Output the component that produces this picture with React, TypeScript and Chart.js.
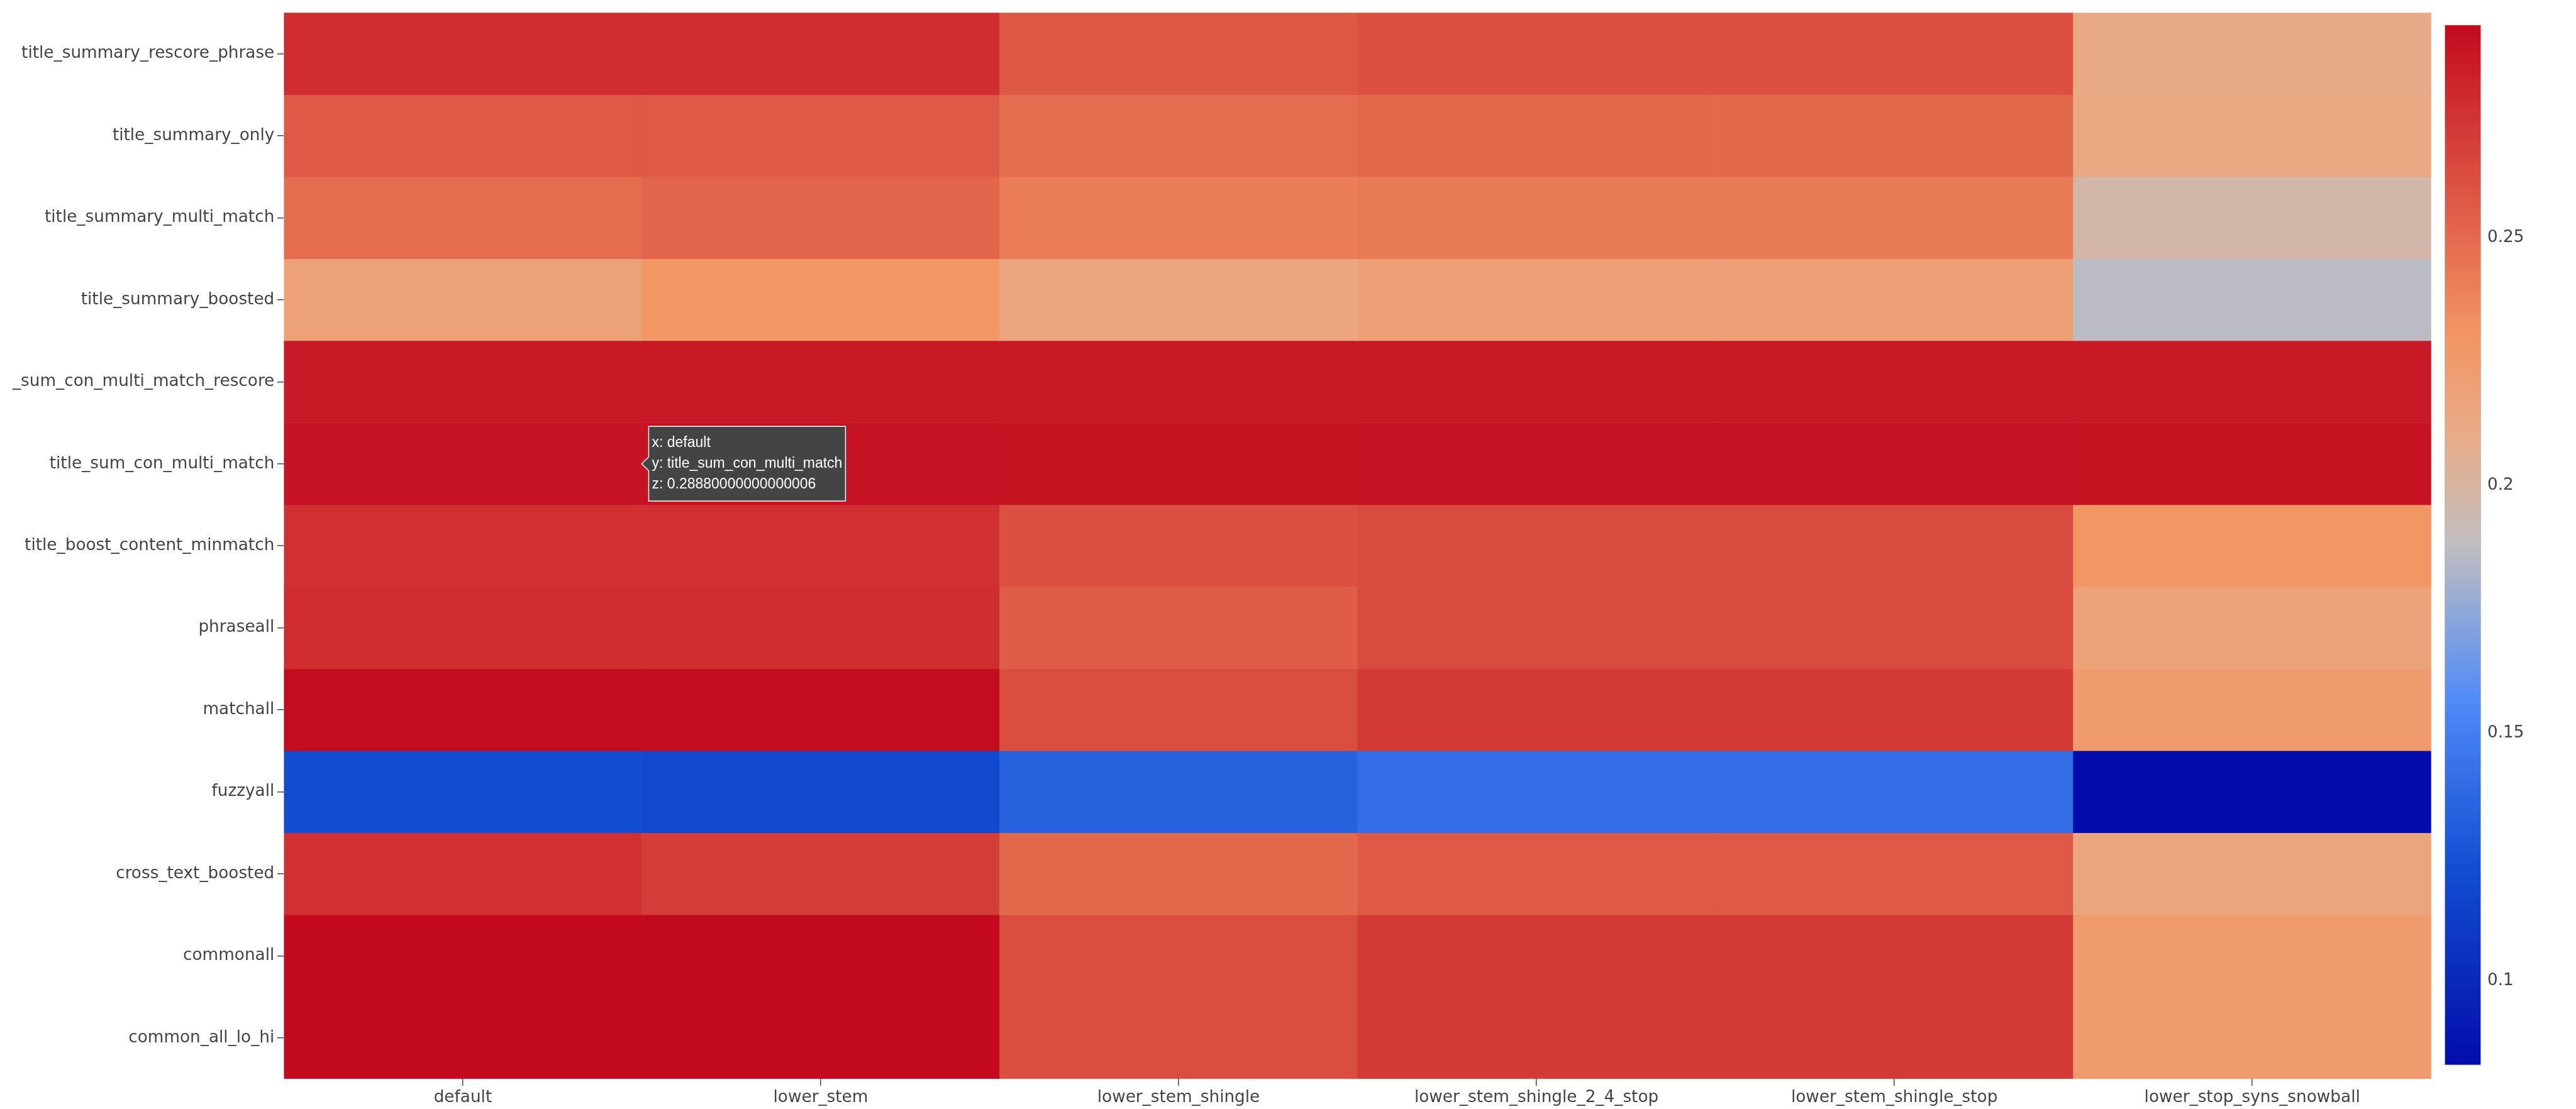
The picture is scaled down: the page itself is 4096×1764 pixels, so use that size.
import React, { useEffect, useRef } from "react";
import { Chart, registerables, Tooltip } from "chart.js";

Chart.register(...registerables);

// ---------- data ----------
const columns = [
  "default",
  "lower_stem",
  "lower_stem_shingle",
  "lower_stem_shingle_2_4_stop",
  "lower_stem_shingle_stop",
  "lower_stop_syns_snowball",
];

// rows listed top to bottom
const rowNames = [
  "title_summary_rescore_phrase",
  "title_summary_only",
  "title_summary_multi_match",
  "title_summary_boosted",
  "title_sum_con_multi_match_rescore",
  "title_sum_con_multi_match",
  "title_boost_content_minmatch",
  "phraseall",
  "matchall",
  "fuzzyall",
  "cross_text_boosted",
  "commonall",
  "common_all_lo_hi",
];

const zTitleSummaryRescorePhrase = [0.2773, 0.2772, 0.2579, 0.2615, 0.2615, 0.2109];
const zTitleSummaryOnly = [0.257, 0.2568, 0.2489, 0.2503, 0.2503, 0.2128];
const zTitleSummaryMultiMatch = [0.2489, 0.2525, 0.2413, 0.2426, 0.2426, 0.1975];
const zTitleSummaryBoosted = [0.2195, 0.23, 0.215, 0.22, 0.22, 0.1865];
const zTitleSumConMultiMatchRescore = [0.2862, 0.2862, 0.2861, 0.2862, 0.2862, 0.286];
const zTitleSumConMultiMatch = [0.28880000000000006, 0.2888, 0.2887, 0.2888, 0.2888, 0.2886];
const zTitleBoostContentMinmatch = [0.2759, 0.2759, 0.2615, 0.2638, 0.2638, 0.23];
const zPhraseall = [0.2773, 0.2773, 0.2561, 0.2638, 0.2638, 0.2186];
const zMatchall = [0.2921, 0.2921, 0.2624, 0.2714, 0.2714, 0.2252];
const zFuzzyall = [0.122, 0.1192, 0.1335, 0.1404, 0.1404, 0.083];
const zCrossTextBoosted = [0.2759, 0.2696, 0.2503, 0.257, 0.257, 0.2157];
const zCommonall = [0.293, 0.293, 0.2624, 0.2714, 0.2714, 0.2252];
const zCommonAllLoHi = [0.293, 0.293, 0.2624, 0.2714, 0.2714, 0.2252];

const zRows = [
  zTitleSummaryRescorePhrase,
  zTitleSummaryOnly,
  zTitleSummaryMultiMatch,
  zTitleSummaryBoosted,
  zTitleSumConMultiMatchRescore,
  zTitleSumConMultiMatch,
  zTitleBoostContentMinmatch,
  zPhraseall,
  zMatchall,
  zFuzzyall,
  zCrossTextBoosted,
  zCommonall,
  zCommonAllLoHi,
];

const colorbarTicks = [0.1, 0.15, 0.2, 0.25];

const hoverRow = "title_sum_con_multi_match";
const hoverColumn = "default";

// ---------- style ----------
const colorStops: [number, number[]][] = [
  [0, [3, 12, 170]],
  [0.19, [18, 78, 210]],
  [0.35, [80, 138, 248]],
  [0.5, [192, 190, 192]],
  [0.6, [232, 172, 138]],
  [0.7, [242, 150, 100]],
  [1, [195, 10, 30]],
];

const W = 4096;
const H = 1764;
const PLOT = { left: 451.4, right: 3865.7, top: 17.7, bottom: 1716 };
const CB = { left: 3887, width: 58, top: 39.4, bottom: 1694.4, labelGap: 10 };
const LEFT_CLIP = 19;
const FONT_FAMILY = "'DejaVu Sans', 'Verdana', sans-serif";
const FONT_SIZE = 26.3;
const TEXT = "#444";

const zAll = zRows.flat();
const zMin = Math.min(...zAll);
const zMax = Math.max(...zAll);

function rgb(c: number[]) {
  return `rgb(${Math.round(c[0])},${Math.round(c[1])},${Math.round(c[2])})`;
}

function colorAt(t: number) {
  const tt = Math.max(0, Math.min(1, t));
  for (let i = 1; i < colorStops.length; i++) {
    const [t1, c1] = colorStops[i];
    const [t0, c0] = colorStops[i - 1];
    if (tt <= t1) {
      const f = (tt - t0) / (t1 - t0);
      return rgb([0, 1, 2].map((k) => c0[k] + (c1[k] - c0[k]) * f));
    }
  }
  return rgb(colorStops[colorStops.length - 1][1]);
}

function colorFor(z: number) {
  return colorAt((z - zMin) / (zMax - zMin));
}

(Tooltip.positioners as any).cellRight = function (items: any[]) {
  if (!items.length) return false;
  const p = items[0].element.getProps(["x", "y", "base", "width"], true);
  return { x: p.x + p.width / 2, y: (p.y + p.base) / 2 };
};

// the reference cuts the long axis label off at the page's left edge
const leftClipPlugin = {
  id: "leftClip",
  afterDraw(chart: any) {
    const ctx = chart.ctx;
    ctx.save();
    ctx.fillStyle = "#ffffff";
    ctx.fillRect(0, 0, LEFT_CLIP, chart.height);
    ctx.restore();
  },
};

export default function App() {
  const mainRef = useRef<HTMLCanvasElement | null>(null);
  const cbRef = useRef<HTMLCanvasElement | null>(null);

  useEffect(() => {
    if (!mainRef.current || !cbRef.current) return;
    const nRows = rowNames.length;

    const datasets = rowNames.map((name, r) => {
      const base = nRows - 1 - r;
      return {
        label: name,
        data: zRows[r].map(() => [base, base + 1]),
        backgroundColor: zRows[r].map((z) => colorFor(z)),
        borderWidth: 0,
        barPercentage: 1,
        categoryPercentage: 1,
        grouped: false,
      };
    });

    const tickFont = { family: FONT_FAMILY, size: FONT_SIZE };

    const main = new Chart(mainRef.current, {
      type: "bar",
      data: { labels: columns, datasets: datasets as any },
      plugins: [leftClipPlugin],
      options: {
        responsive: false,
        animation: false,
        devicePixelRatio: 1,
        events: [],
        layout: {
          padding: { left: 0, top: PLOT.top, right: W - PLOT.right, bottom: 0 },
        },
        scales: {
          x: {
            type: "category",
            offset: true,
            grid: {
              offset: false,
              drawOnChartArea: false,
              drawTicks: true,
              tickLength: 11,
              color: TEXT,
              lineWidth: 1.5,
            },
            border: { display: false },
            ticks: {
              font: tickFont,
              color: TEXT,
              padding: 3,
              autoSkip: false,
              maxRotation: 0,
              minRotation: 0,
            },
            afterFit: (s: any) => {
              s.height = H - PLOT.bottom;
            },
          },
          y: {
            type: "linear",
            min: 0,
            max: nRows,
            afterBuildTicks: (s: any) => {
              s.ticks = rowNames.map((_, i) => ({ value: i + 0.5 }));
            },
            grid: {
              drawOnChartArea: false,
              drawTicks: true,
              tickLength: 10.6,
              color: TEXT,
              lineWidth: 1.5,
            },
            border: { display: false },
            ticks: {
              font: tickFont,
              color: TEXT,
              padding: 4.5,
              autoSkip: false,
              callback: (v: any) => rowNames[nRows - 1 - Math.floor(Number(v))],
            },
            afterFit: (s: any) => {
              s.width = PLOT.left;
            },
          },
        },
        plugins: {
          legend: { display: false },
          tooltip: {
            enabled: true,
            position: "cellRight" as any,
            xAlign: "left",
            yAlign: "center",
            backgroundColor: "#444",
            borderColor: "#ffffff",
            borderWidth: 1.5,
            cornerRadius: 0,
            caretSize: 11,
            caretPadding: 0,
            displayColors: false,
            bodyFont: { family: "'Liberation Sans', Arial, sans-serif", size: 23 },
            bodyColor: "#ffffff",
            bodySpacing: 5,
            padding: { left: 5, right: 5, top: 13, bottom: 13 } as any,
            callbacks: {
              title: () => [],
              label: (ctx: any) => [
                `x: ${columns[ctx.dataIndex]}`,
                `y: ${ctx.dataset.label}`,
                `z: ${String(zRows[ctx.datasetIndex][ctx.dataIndex])}`,
              ],
            },
          },
        },
      },
    });

    main.tooltip?.setActiveElements(
      [{ datasetIndex: rowNames.indexOf(hoverRow), index: columns.indexOf(hoverColumn) }],
      { x: 0, y: 0 }
    );
    main.update();

    const cbCanvasW = W - CB.left;
    const colorbar = new Chart(cbRef.current, {
      type: "bar",
      data: {
        labels: ["z"],
        datasets: [
          {
            data: [[zMin, zMax]] as any,
            backgroundColor: (ctx: any) => {
              const area = ctx.chart.chartArea;
              if (!area) return colorAt(0.5);
              const g = ctx.chart.ctx.createLinearGradient(0, area.bottom, 0, area.top);
              colorStops.forEach(([t, c]) => g.addColorStop(t, rgb(c)));
              return g;
            },
            borderColor: "rgba(68,68,68,0.35)",
            borderWidth: 1.2,
            borderSkipped: false,
            barPercentage: 1,
            categoryPercentage: 1,
          },
        ],
      },
      options: {
        responsive: false,
        animation: false,
        devicePixelRatio: 1,
        events: [],
        layout: { padding: { left: 0, right: 0, top: CB.top, bottom: H - CB.bottom } },
        scales: {
          x: { display: false, offset: true },
          y: {
            type: "linear",
            position: "right",
            min: zMin,
            max: zMax,
            afterBuildTicks: (s: any) => {
              s.ticks = colorbarTicks.map((v) => ({ value: v }));
            },
            grid: { display: false, drawTicks: false },
            border: { display: false },
            ticks: {
              font: { family: FONT_FAMILY, size: FONT_SIZE },
              color: TEXT,
              padding: CB.labelGap,
              autoSkip: false,
              callback: (v: any) => String(v),
            },
            afterFit: (s: any) => {
              s.width = cbCanvasW - CB.width;
            },
          },
        },
        plugins: { legend: { display: false }, tooltip: { enabled: false } },
      },
    });

    return () => {
      main.destroy();
      colorbar.destroy();
    };
  }, []);

  return (
    <div
      style={{
        position: "fixed",
        left: 0,
        top: 0,
        width: W,
        height: H,
        background: "#ffffff",
        overflow: "hidden",
      }}
    >
      <canvas
        ref={mainRef}
        width={W}
        height={H}
        style={{ position: "absolute", left: 0, top: 0, width: W, height: H }}
      />
      <canvas
        ref={cbRef}
        width={W - CB.left}
        height={H}
        style={{ position: "absolute", left: CB.left, top: 0, width: W - CB.left, height: H }}
      />
    </div>
  );
}
